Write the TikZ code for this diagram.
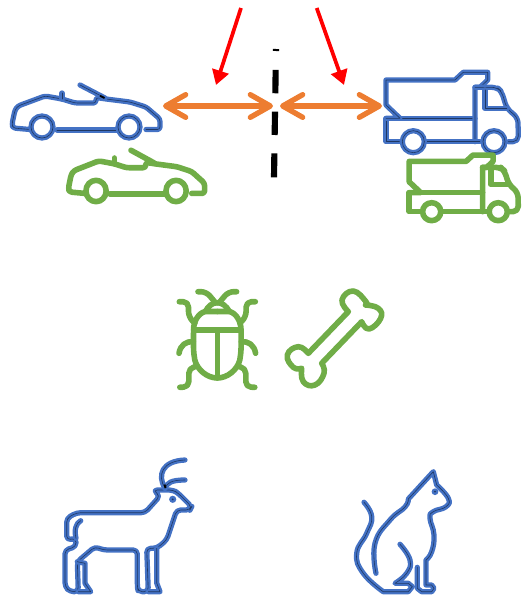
\documentclass[tikz,border=0pt]{standalone}
\usepackage{tikz}
\usetikzlibrary{arrows.meta}
\definecolor{iconblue}{HTML}{4472C4}
\definecolor{iconcore}{HTML}{1F3864}
\definecolor{icongreen}{HTML}{70AD47}
\definecolor{arrorange}{HTML}{ED7D31}

\begin{document}
\begin{tikzpicture}[
    x=0.75pt, y=-0.75pt,
    blueline/.style = {draw=iconblue, line width=1.75pt, double=iconcore, double distance=0.45pt,
                       line cap=round, line join=round},
    greenline/.style = {draw=icongreen, line width=4.2pt, line cap=round, line join=round},
    bothway/.style = {{Straight Barb[length=15pt, width=17pt, round]}-{Straight Barb[length=15pt, width=17pt, round]},
                      line width=4pt, arrorange, line cap=round},
    push/.style = {-{Triangle[length=11pt, width=12.5pt]}, line width=2.8pt, red},
    wall/.style = {line width=4.6pt, black,
                   dash pattern=on 1.5pt off 14.2pt on 17.5pt off 13.8pt on 17.5pt off 13.8pt on 18pt off 20pt},
    car/.pic = {
        \draw[#1, rounded corners=2pt] (30,129.5) -- (13,128) -- (12,124) -- (15,110) -- (18,106) -- (45,96)
            -- (62,99) -- (75,103) -- (96,103) -- (96,97.5) -- (106,99) -- (130,102) -- (146,107)
            -- (160,119) -- (160,129.5) -- (146,129.5);
        \draw[#1] (57,130) -- (117,130);
        \draw[#1] (42,127) circle (11);
        \draw[#1] (129,127) circle (11);
        \draw[#1] (80,85) -- (105,98);
        \draw[#1] (62,93) -- (62,99);
    },
    truck/.pic = {
        \draw[#1] (400,141.7) -- (386,141.7) -- (386,118.3) -- (475,118.3);
        \draw[#1] (386,118.3) -- (400,118.3) -- (386,105) -- (386,80) -- (455,80) -- (463.3,72.3)
            -- (487.7,72.3) -- (487.7,80) -- (480,87.3) -- (475,87.3) -- (475,141.7);
        \draw[#1] (426.7,141.7) -- (480,141.7);
        \draw[#1, rounded corners=4pt] (475,87.3) -- (497,87.3) -- (501.7,91.7) -- (506.7,108.3)
            -- (518,118) -- (518.3,141.7) -- (508.3,141.7);
        \draw[#1] (485,90) -- (485,108.3) -- (506.7,108.3);
        \draw[#1] (413.3,141.7) circle (11);
        \draw[#1] (494,141.7) circle (11);
    },
]

%% ---- Separator and arrows ----
\coordinate (wallTop) at (276,49);
\coordinate (wallEnd) at (274,177.3);
\draw[wall] (wallTop) -- (wallEnd);

\coordinate (carTip) at (163,106);
\coordinate (wallLeft) at (273,106);
\coordinate (wallRight) at (280,106);
\coordinate (truckTip) at (382,106);
\draw[bothway] (carTip) -- (wallLeft);
\draw[bothway] (wallRight) -- (truckTip);

\coordinate (pushLstart) at (241,8);
\coordinate (pushLend) at (216,85);
\coordinate (pushRstart) at (316.7,8);
\coordinate (pushRend) at (344,85);
\draw[push] (pushLstart) -- (pushLend);
\draw[push] (pushRstart) -- (pushRend);

%% ---- Cars and trucks ----
\pic (carBlue) at (0,0) {car=blueline};
\draw[black, line width=1.4pt] (100,95.8) -- (104.5,98);
\pic[xscale=0.92, yscale=0.97] (carGreen) at (57.4,67.8) {car=greenline};
\pic (truckBlue) at (0,0) {truck=blueline};
\pic[xscale=0.825, yscale=0.815] (truckGreen) at (90.7,96.2) {truck=greenline};

%% ---- Beetle ----
\begin{scope}[shift={(217.3,280)}]
    \draw[greenline] (0,50) -- (0,97);
    \foreach \s in {1,-1} {
        \begin{scope}[xscale=\s]
            \draw[greenline] (0,50) -- (23.7,50) .. controls (24,65) and (24,72) .. (22.5,80)
                .. controls (20,90) and (10,98) .. (0,98);
            \draw[greenline] (0,31.5) -- (12,31.5) .. controls (19,33) and (24,42) .. (23.7,50);
            \draw[greenline] (12,31.5) .. controls (9,26) and (5,22.7) .. (0,22.7);
            \draw[greenline, rounded corners=4pt] (2.7,21.7) -- (11,11.7) -- (19.3,11.7);
            \draw[greenline, rounded corners=4pt] (22.5,43.3) -- (28.8,36.7) -- (28.8,21.7) -- (38,21.7);
            \draw[greenline] (24,61.7) .. controls (31,61) and (37,65) .. (38.3,73.3);
            \draw[greenline, rounded corners=4pt] (22,86.7) -- (28.5,88) -- (28.5,107) -- (37.5,107.3);
        \end{scope}
    }
\end{scope}

%% ---- Bone ----
\draw[greenline] (308.3,353.3) -- (348.3,311.7)
    -- plot[smooth, tension=0.8] coordinates {(348.3,311.7) (342,300) (353.3,291) (366,301.7) (365.5,305)}
    -- plot[smooth, tension=0.8] coordinates {(365.5,305) (378.3,308.3) (380.7,318.3) (369,329) (361.7,321.7)}
    -- (321.7,363.3)
    -- plot[smooth, tension=0.8] coordinates {(321.7,363.3) (324,373.3) (315,385) (303.3,381.7) (301.7,368.3)}
    -- plot[smooth, tension=0.8] coordinates {(301.7,368.3) (293.3,367.3) (287.3,355) (298.3,346.7) (308.3,353.3)};

%% ---- Deer ----
\draw[blueline, rounded corners=3pt] (153.3,490) -- (160,496) -- (145,512.7) -- (76.7,512.7) -- (66.7,518.3)
    -- (66.7,540) -- (76,538.3) -- (76,546.7) -- (65,550) -- (65,586.7) -- (70,591.7) -- (78.3,591.7)
    -- (77.3,561.7) -- (95,546.7) -- (103.3,550) -- (137.3,550) -- (137.3,586.7) -- (138.3,591.7)
    -- (148.3,591.7) -- (146.7,548.3) -- (156.7,548.3) -- (166.7,540) -- (176.7,510) -- (190,510)
    -- (191.7,506.7) -- (178.3,493.3) -- (173.3,490) -- cycle;
\draw[blueline] (156.7,548.3) -- (156.7,583) -- (160,591.7) -- (148.3,591.7);
\draw[blueline] (77.3,561.7) -- (85,563.3) -- (85,583.3) -- (90.7,591.7) -- (78.3,591.7);
\draw[blueline] (80.7,520.7) .. controls (76,523) and (74,530) .. (76,538.3);
\draw[blueline] (165,488.3) .. controls (157,475) and (162,461) .. (185,460);
\draw[blueline] (165,488.3) .. controls (167,483) and (171,480) .. (185,480);
\draw[black, line width=1.4pt] (164.5,484.5) -- (165.5,488);
\fill[iconblue] (172.7,499.3) circle (3.6);
\fill[iconcore] (172.7,499.3) circle (1);

%% ---- Cat ----
\draw[blueline] plot[smooth, tension=0.8] coordinates {(376,573.3) (375,543.3) (390,520) (405,507) (408.3,499)}
    -- (433.3,471.7) -- (436.7,485)
    -- plot[smooth, tension=0.8] coordinates {(436.7,485) (448.3,498.3) (446,506.7) (433.3,511.7) (430,518.3) (434,535) (431.7,551.7) (426,560)}
    -- (426,585) -- (431.7,585) -- (434,588.3) -- (431.7,591.7) -- (421.7,591.7) -- (417.3,588.3) -- (417.3,567.3);
\draw[blueline] plot[smooth, tension=0.8] coordinates {(364,502.3) (371.7,516.7) (366.7,533.3) (356.7,553.3) (363.3,573.3) (383.3,591.7)}
    -- (408.3,591.7) -- (412.3,586.7) -- (408.3,583.3) -- (395,583.3)
    -- plot[smooth, tension=0.8] coordinates {(395,583.3) (406.7,573.3) (410,560) (400,544.3)};
\fill[iconblue] (435,491.7) circle (3.4);
\fill[iconcore] (435,491.7) circle (1);

\useasboundingbox (0,0) rectangle (521,596);
\end{tikzpicture}
\end{document}
